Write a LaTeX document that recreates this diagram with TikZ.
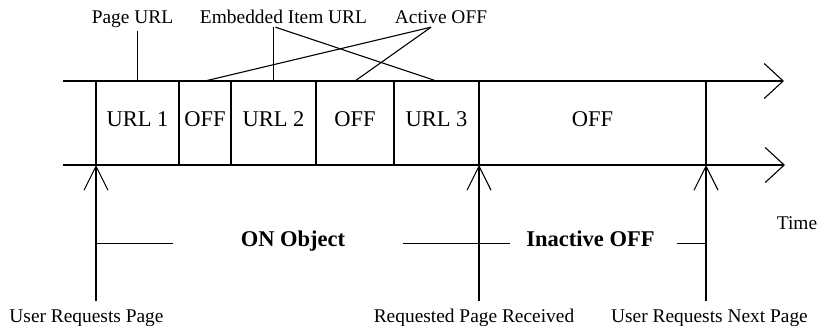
\documentclass[tikz,border=0pt]{standalone}
\usepackage{fontspec}
\setmainfont{Liberation Serif}
\usetikzlibrary{positioning,arrows.meta}
\begin{document}
\begin{tikzpicture}[x=1pt, y=1pt,
    cell/.style={draw, line width=1.1pt, minimum height=84pt, inner sep=0pt, outer sep=0pt,
                 text height=15pt, text depth=9pt, font=\fontsize{22.5}{26}\selectfont},
    lbl/.style={inner sep=0pt, outer sep=4pt, anchor=base, font=\fontsize{19.4}{23}\selectfont},
    span/.style={inner sep=0pt, anchor=base, font=\fontsize{22.5}{26}\selectfont\bfseries},
    divider/.style={line width=2.2pt},
    timeline/.style={line width=1.1pt, -{Straight Barb[length=19pt, width=35pt, line width=1.1pt]}},
    event/.style={line width=1.1pt, -{Straight Barb[length=24pt, width=24pt, line width=1.1pt]}}]
            \useasboundingbox (0,0) rectangle (823,-325);

            \coordinate (top0) at (63,-81);
            \coordinate (top1) at (784,-81);
            \coordinate (bot0) at (63,-165);
            \coordinate (bot1) at (785,-165);
            \draw[timeline] (top0) -- (top1);
            \draw[timeline] (bot0) -- (bot1);

            \node[cell, minimum width=83pt] (url1) at (137.5,-123) {URL 1};
            \node[cell, minimum width=52pt, right=0pt of url1] (off1) {OFF};
            \node[cell, minimum width=85pt, right=0pt of off1] (url2) {URL 2};
            \node[cell, minimum width=78pt, right=0pt of url2] (off2) {OFF};
            \node[cell, minimum width=85pt, right=0pt of off2] (url3) {URL 3};
            \node[cell, minimum width=227pt, right=0pt of url3] (off3) {OFF};
            \foreach \c in {url1,off1,url2,off2,url3}
                \draw[divider] (\c.north east) -- (\c.south east);
            \draw[line width=1.8pt] (url1.south west) -- (off3.south east);

            \node[lbl] (pageurl) at (132.5,-23) {Page URL};
            \node[lbl] (emburl) at (283.5,-23) {Embedded Item URL};
            \node[lbl] (actoff) at (441,-23) {Active OFF};
            \draw[line width=1.1pt] (url1.north |- pageurl.south) -- (url1.north);
            \draw[line width=1.1pt] (url2.north |- emburl.south) -- (url2.north);
            \draw[line width=1.1pt] ([xshift=-8pt]emburl.south) -- (url3.north);
            \draw[line width=1.1pt] ([xshift=-10pt]actoff.south) -- (off1.north);
            \draw[line width=1.1pt] ([xshift=-10pt]actoff.south) -- (off2.north);

            \node[lbl] (usrreq) at (86.5,-322) {User Requests Page};
            \node[lbl] (pagercv) at (474,-322) {Requested Page Received};
            \node[lbl] (usrnext) at (709.5,-322) {User Requests Next Page};
            \draw[event] ([yshift=4pt]usrreq.north -| url1.south west) -- (url1.south west);
            \draw[event] ([yshift=4pt]pagercv.north -| off3.south west) -- (off3.south west);
            \draw[event] ([yshift=4pt]usrnext.north -| off3.south east) -- (off3.south east);

            \node[lbl] (time) at (797,-229) {Time};

            \node[span] (onobj) at (293,-246) {ON Object};
            \node[span] (inact) at (590.5,-246) {Inactive OFF};
            \draw[line width=1.1pt] (url1.south west |- onobj.mid west) -- ([xshift=-68pt]onobj.mid west);
            \draw[line width=1.1pt] ([xshift=58pt]onobj.mid east) -- ([xshift=-16pt]inact.mid west);
            \draw[line width=1.1pt] ([xshift=22pt]inact.mid east) -- (off3.south east |- inact.mid east);
        \end{tikzpicture}
\end{document}
